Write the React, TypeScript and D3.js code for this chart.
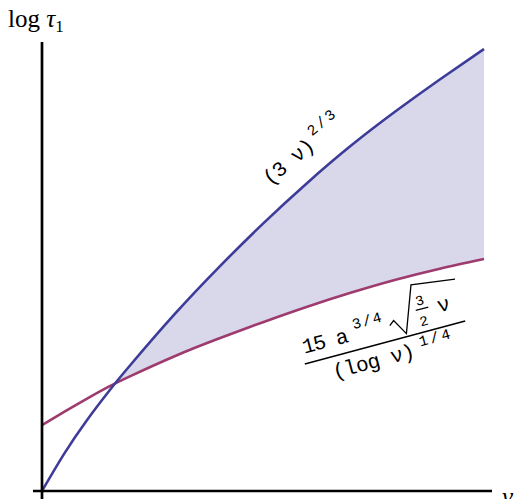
import React from "react";
import * as d3 from "d3";

// sample points of nu (x) and the two bounds (y)
const nuValues = [0, 0.5, 1, 1.5, 2, 3, 4, 5, 6, 7, 8, 9, 10];
const upperBound = [0, 0.84, 1.58, 2.24, 2.85, 4.0, 5.06, 6.05, 6.97, 7.82, 8.59, 9.31, 10];
const lowerBound = [1.49, 1.79, 2.08, 2.355, 2.6, 3.05, 3.45, 3.82, 4.17, 4.49, 4.78, 5.03, 5.25];

const width = 514;
const height = 499;
const blue = "#3e3c99";
const magenta = "#9e3a6e";
const shade = "#d8d8ea";
const mono = "'Liberation Mono', 'DejaVu Sans Mono', monospace";
const serif = "'Liberation Serif', 'Times New Roman', serif";

export default function App() {
  const x = d3.scaleLinear().domain([0, 10]).range([42, 484]);
  const y = d3.scaleLinear().domain([0, 10]).range([491, 49]);

  const rows = nuValues.map((nu, i) => ({nu, hi: upperBound[i], lo: lowerBound[i]}));

  const line = (key: "hi" | "lo") =>
    d3.line<any>().x(d => x(d.nu)).y(d => y(d[key])).curve(d3.curveNatural)(rows) || "";

  // band between the curves, clipped to the part above the lower curve
  const band = d3.area<any>()
    .x(d => x(d.nu))
    .y0(d => y(d.lo))
    .y1(d => y(d.hi))
    .curve(d3.curveNatural)(rows) || "";
  const aboveLower = d3.area<any>()
    .x(d => x(d.nu))
    .y0(0)
    .y1(d => y(d.lo))
    .curve(d3.curveNatural)(rows) || "";

  return (
    <svg width={width} height={height} style={{position: "absolute", left: 0, top: 0}}>
      <defs>
        <clipPath id="above-lower">
          <path d={aboveLower} />
        </clipPath>
      </defs>
      <path d={band} fill={shade} clipPath="url(#above-lower)" />
      <path d={line("lo")} fill="none" stroke={magenta} strokeWidth={2.6} />
      <path d={line("hi")} fill="none" stroke={blue} strokeWidth={2.6} />

      {/* axes */}
      <line x1={33} x2={492} y1={491} y2={491} stroke="#000" strokeWidth={2.7} />
      <line x1={42} x2={42} y1={42} y2={499} stroke="#000" strokeWidth={2.7} />

      <text x={8} y={27} fontFamily={serif} fontSize={25}>
        log <tspan fontStyle="italic">τ</tspan>
        <tspan fontSize={17} dy={5}>1</tspan>
      </text>
      <text x={502} y={505} fontFamily={serif} fontSize={25} fontStyle="italic">ν</text>

      {/* upper curve label */}
      <g transform="translate(270,186) rotate(-40)" fontFamily={mono}>
        <text x={0} y={0} fontSize={21} textLength={60} lengthAdjust="spacing">(3 ν)</text>
        <text x={64} y={-11} fontSize={15} textLength={32} lengthAdjust="spacing">2/3</text>
      </g>

      {/* lower curve label */}
      <g transform="translate(385,342.5) rotate(-15)" fontFamily={mono}>
        <text x={-81} y={-10} fontSize={21} textLength={47} lengthAdjust="spacing">15 a</text>
        <text x={-27} y={-21} fontSize={15} textLength={30} lengthAdjust="spacing">3/4</text>
        <path d="M9,-15 L14,-19 L23,-3 L40,-49 L84,-43" fill="none" stroke="#000" strokeWidth={1.3} />
        <text x={40} y={-27} fontSize={14}>3</text>
        <line x1={38} x2={51} y1={-23} y2={-23} stroke="#000" strokeWidth={1.2} />
        <text x={39} y={-6} fontSize={14}>2</text>
        <text x={60} y={-15} fontSize={21}>ν</text>
        <line x1={-83} x2={83} y1={0} y2={0} stroke="#000" strokeWidth={1.4} />
        <text x={-58} y={22} fontSize={21} textLength={84} lengthAdjust="spacing">(log ν)</text>
        <text x={33} y={13} fontSize={15} textLength={32} lengthAdjust="spacing">1/4</text>
      </g>
    </svg>
  );
}
